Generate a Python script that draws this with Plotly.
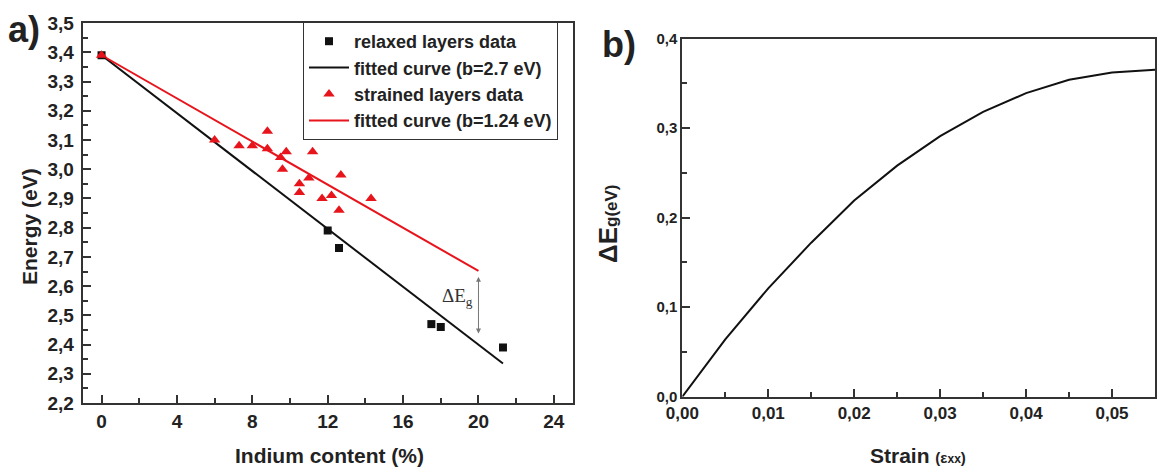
import plotly.graph_objects as go

# ---- panel a) data ----
relaxed_x = [0, 12.0, 12.6, 17.5, 18.0, 21.3]
relaxed_e = [3.39, 2.79, 2.73, 2.47, 2.46, 2.39]
fit_relaxed_x = [0, 12.0, 21.3]
fit_relaxed_e = [3.39, 2.796, 2.335]
strained_x = [0, 6.0, 7.3, 8.0, 8.8, 8.8, 9.5, 9.8, 9.6, 11.2, 11.0, 10.5, 10.5, 12.7, 12.2, 11.7, 12.6, 14.3]
strained_e = [3.39, 3.10, 3.08, 3.08, 3.13, 3.07, 3.04, 3.06, 3.00, 3.06, 2.97, 2.95, 2.92, 2.98, 2.91, 2.90, 2.86, 2.90]
fit_strained_x = [0, 14.8, 20.0]
fit_strained_e = [3.39, 2.845, 2.652]
deltaeg_x = 20.0
deltaeg_top = 2.637
deltaeg_bottom = 2.438

# ---- panel b) data ----
strain = [0, 0.005, 0.010, 0.015, 0.020, 0.025, 0.030, 0.035, 0.040, 0.045, 0.050, 0.055]
delta_eg = [0, 0.064, 0.121, 0.172, 0.219, 0.258, 0.291, 0.318, 0.339, 0.354, 0.362, 0.365]

W, H = 1157, 470
FONT = "Arial, Liberation Sans, sans-serif"
AX = "#333333"
RED = "#e8141c"


def xp(X):
    return X / W


def yp(Y):
    return 1 - Y / H


fig = go.Figure()
fig.add_trace(go.Scatter(x=fit_relaxed_x, y=fit_relaxed_e, mode="lines",
                         line=dict(color="#111111", width=2), showlegend=False,
                         xaxis="x", yaxis="y"))
fig.add_trace(go.Scatter(x=fit_strained_x, y=fit_strained_e, mode="lines",
                         line=dict(color=RED, width=2), showlegend=False,
                         xaxis="x", yaxis="y"))
fig.add_trace(go.Scatter(x=relaxed_x, y=relaxed_e, mode="markers", name="relaxed layers data",
                         marker=dict(symbol="square", size=8, color="#111111"),
                         legendrank=1, xaxis="x", yaxis="y"))
fig.add_trace(go.Scatter(x=[None], y=[None], mode="lines", name="fitted curve (b=2.7 eV)",
                         line=dict(color="#111111", width=2), legendrank=2))
fig.add_trace(go.Scatter(x=strained_x, y=strained_e, mode="markers", name="strained layers data",
                         marker=dict(symbol="triangle-up", size=10, color=RED),
                         legendrank=3, xaxis="x", yaxis="y"))
fig.add_trace(go.Scatter(x=[None], y=[None], mode="lines", name="fitted curve (b=1.24 eV)",
                         line=dict(color=RED, width=2), legendrank=4))

fig.add_trace(go.Scatter(x=strain, y=delta_eg, mode="lines", line=dict(color="#111111", width=2),
                         showlegend=False, xaxis="x2", yaxis="y2"))

tickfont_l = dict(family=FONT, size=19, color="#222222", weight="bold")
axis_common = dict(showline=True, linecolor=AX, linewidth=2, mirror=True, ticks="inside",
                   ticklen=8, tickwidth=2, tickcolor=AX, showgrid=False, zeroline=False,
                   automargin=False)

fig.update_layout(
    width=W, height=H,
    margin=dict(l=0, r=0, t=0, b=0, autoexpand=False),
    paper_bgcolor="white", plot_bgcolor="white",
    separators=",.",
    font=dict(family=FONT, color="#222222"),
    xaxis=dict(domain=[xp(82.7), xp(572.7)], range=[-1, 25], tick0=0, dtick=4, tickformat="d",
               tickfont=tickfont_l, minor=dict(dtick=2, ticklen=5, tickwidth=1.5, tickcolor=AX, ticks="inside"),
               anchor="y", **axis_common),
    yaxis=dict(domain=[yp(403), yp(23.1)], range=[2.2, 3.5], tick0=2.2, dtick=0.1, tickformat=".1f",
               tickfont=tickfont_l, ticklabelstandoff=3,
               minor=dict(dtick=0.05, ticklen=5, tickwidth=1.5, tickcolor=AX, ticks="inside"),
               anchor="x", **axis_common),
    xaxis2=dict(domain=[xp(682.3), xp(1155.0)], range=[0, 0.055], tick0=0, dtick=0.01, tickformat=".2f",
                tickfont=dict(family=FONT, size=17, color="#222222", weight="bold"),
                minor=dict(dtick=0.005, ticklen=5, tickwidth=1.5, tickcolor=AX, ticks="inside"),
                anchor="y2", **axis_common),
    yaxis2=dict(domain=[yp(396.7), yp(38.5)], range=[0, 0.4], tick0=0, dtick=0.1, tickformat=".1f",
                tickfont=dict(family=FONT, size=15, color="#222222", weight="bold"),
                minor=dict(dtick=0.05, ticklen=5, tickwidth=1.5, tickcolor=AX, ticks="inside"),
                anchor="x2", **axis_common),
    legend=dict(x=xp(303), xanchor="left", y=yp(22), yanchor="top",
                bordercolor=AX, borderwidth=1, bgcolor="white",
                font=dict(family=FONT, size=18, color="#222222", weight="bold"),
                itemwidth=40, tracegroupgap=0, traceorder="normal"),
    showlegend=True,
)

# Delta Eg double arrow
fig.add_annotation(x=deltaeg_x, y=deltaeg_bottom, ax=deltaeg_x, ay=deltaeg_top,
                   xref="x", yref="y", axref="x", ayref="y", text="", showarrow=True,
                   arrowhead=2, startarrowhead=2, arrowside="end+start", arrowsize=1,
                   arrowwidth=1, arrowcolor="#777777")
fig.add_annotation(x=18.9, y=2.563, xref="x", yref="y", text="ΔE<sub>g</sub>", showarrow=False,
                   font=dict(family="Liberation Serif, Times New Roman, serif", size=19, color="#333333"))


# axis titles and panel labels (positions in window pixels)
def ann(x, y, text, size, angle=0, weight="bold"):
    fig.add_annotation(x=xp(x), y=yp(y), xref="paper", yref="paper", text=text, showarrow=False,
                       textangle=angle, xanchor="center", yanchor="middle",
                       font=dict(family=FONT, size=size, color="#222222", weight=weight))


ann(29, 227, "Energy (eV)", 21, angle=-90)
ann(329, 455, "Indium content (%)", 21)
ann(918, 455, "Strain <span style='font-size:15px'>(ε</span><span style='font-size:12px'>xx</span><span style='font-size:15px'>)</span>", 21)
ann(608, 224, "ΔE<span style='font-size:17px'>g(eV)</span>", 26, angle=-90)
ann(24, 30, "a)", 36)
ann(619, 45, "b)", 36)

# remove the default 8px page margin so the figure sits at the window's top-left corner
fig.write_html("out.html",
               config={"displayModeBar": False},
               post_script="document.body.style.margin='0';document.body.style.overflow='hidden';")
